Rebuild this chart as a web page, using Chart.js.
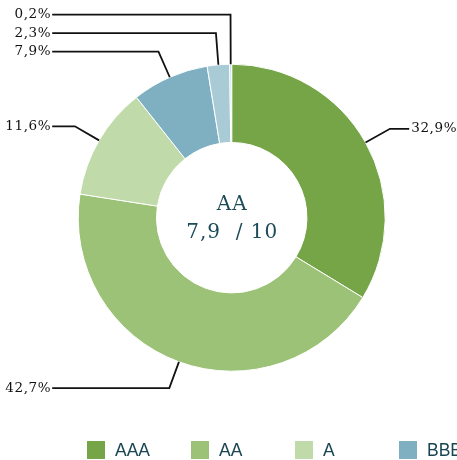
<!DOCTYPE html>
<html>
<head>
<meta charset="utf-8">
<script src="https://cdn.jsdelivr.net/npm/chart.js@4"></script>
<style>
  html, body { margin: 0; padding: 0; background: #fff; overflow: hidden; }
  #wrap { position: relative; width: 457px; height: 460px; }
  #legend { position: absolute; left: 87px; top: 441px; white-space: nowrap; overflow: hidden; width: 370px;
            font-family: "Liberation Sans", Arial, sans-serif; font-size: 17.5px; color: #1a4552; }
  .item { display: inline-block; width: 104px; height: 18px; line-height: 18px; vertical-align: top; }
  .box { display: inline-block; width: 18px; height: 18px; vertical-align: top; margin-right: 10px; }
</style>
</head>
<body>
<div id="wrap">
  <canvas id="ratingChart" width="457" height="460"></canvas>
  <div id="legend"></div>
</div>
<script>
// rating split (%)
const ratingLabels = ["AAA", "AA", "A", "BBB", "BB", "B"];
const ratingValues = [32.9, 42.7, 11.6, 7.9, 2.3, 0.2];
const ratingColors = ["#76a548", "#9bc276", "#c0daa9", "#7fb0c2", "#a9cbd6", "#c3dbe3"];

const centerTitle = "AA";
const centerScore = "7,9  / 10";

const fmt = (v) => v.toFixed(1).replace(".", ",") + "%";

// labels with leader lines
const leaderLabels = {
    id: "leaderLabels",
    afterDraw(chart) {
        const ctx = chart.ctx;
        const arcs = chart.getDatasetMeta(0).data;
        const items = [];
        arcs.forEach((arc, i) => {
            const p = arc.getProps(["x", "y", "startAngle", "endAngle", "outerRadius"], true);
            const mid = (p.startAngle + p.endAngle) / 2;
            const R = p.outerRadius;
            items.push({
                i: i,
                cx: p.x, R: R,
                sx: p.x + Math.cos(mid) * R,
                sy: p.y + Math.sin(mid) * R,
                ex: p.x + Math.cos(mid) * (R + 28),
                ey: p.y + Math.sin(mid) * (R + 28),
                left: Math.cos(mid) < 0
            });
        });
        // spread left labels upward if they crowd
        const lefts = items.filter(d => d.left).sort((a, b) => b.ey - a.ey);
        for (let k = 1; k < lefts.length; k++) {
            if (lefts[k - 1].ey - lefts[k].ey < 18.5) lefts[k].ey = lefts[k - 1].ey - 18.5;
        }
        ctx.save();
        ctx.strokeStyle = "#111";
        ctx.lineWidth = 1.8;
        ctx.fillStyle = "#111";
        ctx.font = '13.5px "DejaVu Serif", serif';
        ctx.letterSpacing = "0.6px";
        ctx.textBaseline = "middle";
        items.forEach(d => {
            const tx = d.left ? d.cx - d.R - 26 : d.cx + d.R + 24;
            ctx.beginPath();
            ctx.moveTo(d.sx, d.sy);
            ctx.lineTo(d.ex, d.ey);
            ctx.lineTo(tx, d.ey);
            ctx.stroke();
            ctx.textAlign = d.left ? "right" : "left";
            ctx.fillText(fmt(ratingValues[d.i]), d.left ? tx - 1 : tx + 2, d.ey);
        });
        // centre text
        const c = arcs[0];
        ctx.fillStyle = "#1b4a58";
        ctx.font = '20px "DejaVu Serif", serif';
        ctx.letterSpacing = "1px";
        ctx.textAlign = "center";
        ctx.fillText(centerTitle, c.x + 0.5, c.y - 13);
        ctx.fillText(centerScore, c.x + 0.5, c.y + 15);
        ctx.restore();
    }
};

const chartEl = document.getElementById("ratingChart");
new Chart(chartEl, {
    type: "doughnut",
    data: {
        labels: ratingLabels,
        datasets: [
            {
                data: ratingValues,
                backgroundColor: ratingColors,
                borderColor: "#fff",
                borderWidth: 1,
            },
        ],
    },
    options: {
        responsive: false,
        animation: false,
        cutout: "49%",
        layout: { padding: { left: 77.7, right: 71.3, top: 63.7, bottom: 88.3 } },
        plugins: {
            legend: { display: false },
            tooltip: { enabled: false },
        },
    },
    plugins: [leaderLabels],
});

// legend
const legendEl = document.getElementById("legend");
ratingLabels.forEach((lab, i) => {
    const it = document.createElement("span");
    it.className = "item";
    it.innerHTML = '<span class="box" style="background:' + ratingColors[i] + '"></span>' + lab;
    legendEl.appendChild(it);
});
</script>
</body>
</html>
